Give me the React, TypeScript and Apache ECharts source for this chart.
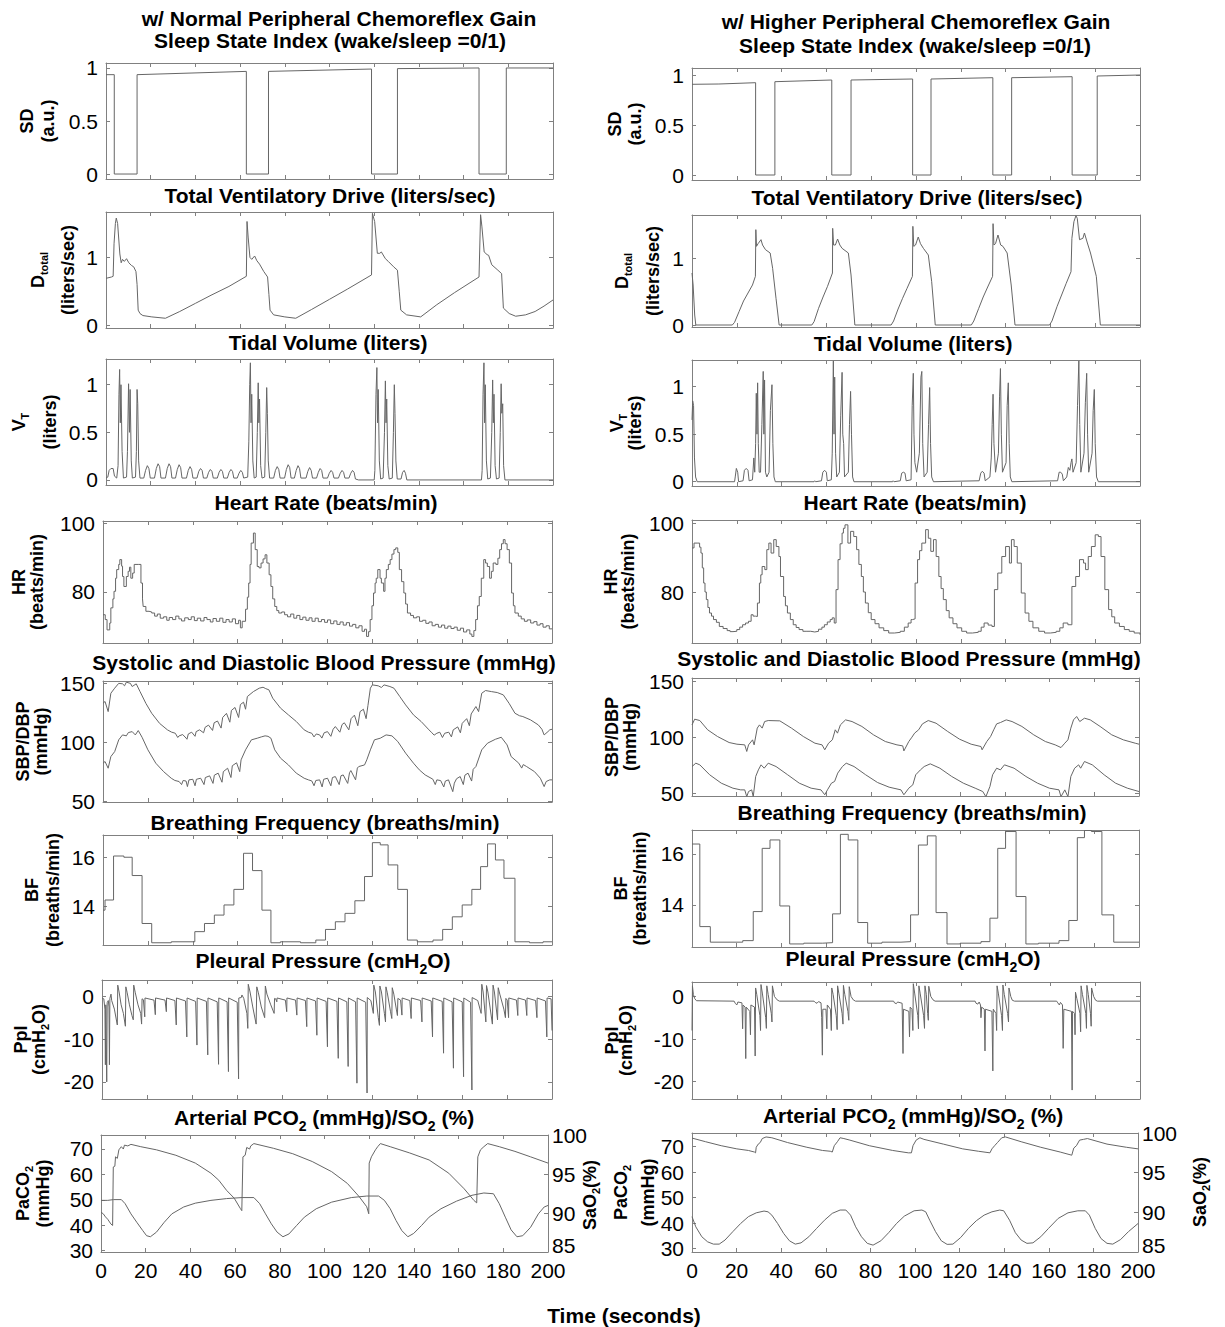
import React, { useEffect, useRef } from 'react';
import * as echarts from 'echarts';

const FONT = "'Liberation Sans', Arial, Helvetica, sans-serif";
const LINE = '#666666';
const FRAME = '#808080';

// ---------- tick values ----------
const X_MIN = 0;
const X_MAX = 200;
const X_STEP = 20;
const SD_T = [0, 0.5, 1];
const DT_T = [0, 1];
const VT_T = [0, 0.5, 1];
const HR_T = [80, 100];
const BP_T = [50, 100, 150];
const BF_T = [14, 16];
const PPL_T = [-20, -10, 0];
const PCO_T = [30, 40, 50, 60, 70];
const SAO_T = [85, 90, 95, 100];

// ---------- data: [time (s), value] ----------
const sdLeft = [[0,0.937],[3.7,0.937],[3.7,0],[13.9,0],[13.9,0.937],[62.8,0.968],[62.8,0],[72.7,0],[72.7,0.968],[118.8,0.99],[118.8,0],[130.4,0],[130.4,0.994],[166.9,1.0],[166.9,0],[179.1,0],[179.1,1.0],[200,1.0]];
const sdRight = [[0,0.907],[12,0.91],[28.4,0.923],[28.4,0],[37,0],[37,0.933],[62.4,0.95],[62.4,0],[71,0],[71,0.95],[98.5,0.96],[98.5,0],[106.7,0],[106.7,0.96],[134.3,0.973],[134.3,0],[142.7,0],[142.7,0.973],[169.7,0.983],[169.7,0],[180.9,0],[180.9,0.99],[200,1.0]];

const dtLeft = [[0,0.69],[2.5,0.71],[3.2,0.72],[3.6,1.2],[4.2,1.5],[4.6,1.58],[5.2,1.5],[6.2,1.05],[6.8,0.92],[7.4,0.97],[8.2,0.94],[9.2,0.98],[10.2,0.92],[11.4,0.88],[12.4,0.86],[13.4,0.79],[13.9,0.6],[14.4,0.22],[15.2,0.17],[16.5,0.14],[20.5,0.12],[26.6,0.10],[33,0.2],[40,0.32],[47,0.44],[55,0.57],[62.8,0.72],[63.1,1.53],[63.6,1.3],[64.4,1.0],[65.2,0.97],[66.5,1.02],[67.5,0.95],[68.7,0.9],[70.6,0.79],[72.3,0.71],[72.9,0.45],[73.4,0.22],[75,0.15],[80,0.12],[84.9,0.10],[92,0.23],[100,0.38],[108,0.53],[118.8,0.74],[119.2,1.65],[120.2,1.53],[121.4,1.06],[122.5,1.06],[123.2,1.08],[125,0.98],[126.3,0.94],[128.7,0.86],[130.4,0.81],[131.2,0.5],[131.9,0.22],[134.5,0.15],[140.8,0.12],[148,0.3],[156,0.48],[166.9,0.71],[167.6,1.63],[168.2,1.45],[169.2,1.08],[170.5,1.04],[171.2,1.03],[172.6,0.89],[175,0.82],[177,0.76],[177.8,0.25],[180.4,0.17],[183.3,0.13],[187.7,0.15],[192,0.2],[196,0.28],[200,0.37]];
const dtRight = [[0,0.78],[0.5,0.6],[1.2,0.15],[1.7,0],[18,0],[19,0.04],[21,0.2],[23,0.36],[25,0.48],[27,0.6],[28.3,0.73],[28.5,1.43],[28.8,1.18],[29.5,1.22],[30.8,1.28],[31.5,1.2],[32.8,1.13],[34.9,1.08],[36,0.85],[37.5,0.4],[38.9,0],[53.5,0],[54.5,0.05],[56.5,0.25],[58.5,0.42],[60.5,0.58],[62.7,0.78],[62.8,1.45],[63.2,1.2],[64,1.2],[65,1.29],[66,1.2],[67,1.15],[69.8,1.08],[71,0.75],[72.7,0],[88.9,0],[90,0.06],[92,0.24],[94,0.4],[96,0.55],[98.4,0.73],[98.6,1.48],[99,1.18],[99.8,1.2],[101,1.32],[102,1.22],[103.3,1.15],[105.5,1.05],[107,0.65],[108.6,0],[124.7,0],[125.8,0.06],[128,0.25],[130,0.42],[132,0.57],[134.2,0.73],[134.4,1.52],[134.8,1.2],[135.5,1.22],[136.6,1.35],[137.8,1.2],[138.8,1.18],[140.7,1.08],[142.5,0.6],[144.2,0],[159.6,0],[160.7,0.06],[163,0.28],[165,0.45],[167,0.62],[169.2,0.8],[169.6,1.3],[170.5,1.55],[171.4,1.64],[172,1.6],[173,1.28],[174.5,1.3],[175.2,1.38],[176.5,1.23],[177.9,1.08],[180.5,0.73],[182.3,0],[200,0]];

const vtLeft = [[0,0.02],[0.8,0.03],[1.4,0.1],[2.2,0.12],[3.2,0.12],[3.8,0.04],[4.8,0.02],[5.4,0.15],[5.8,0.9],[6.1,1.16],[6.4,0.6],[6.7,1.0],[7.2,0.3],[7.8,0.02],[9.2,0.03],[9.6,0.3],[10.1,1.01],[10.5,0.5],[10.8,0.95],[11.3,0.2],[11.8,0.02],[13.2,0.03],[13.6,0.3],[13.9,0.95],[14.2,0.8],[14.6,0.2],[15.2,0.02],
[16.9,0.02],[17.7,0.1],[18.5,0.15],[19.2,0.12],[19.8,0.02],[21.7,0.02],[22.5,0.12],[23.3,0.17],[24,0.14],[24.6,0.02],[26.6,0.02],[27.4,0.12],[28.2,0.17],[28.9,0.14],[29.5,0.02],[31.1,0.02],[31.9,0.11],[32.7,0.16],[33.4,0.13],[34,0.02],[36,0.02],[36.8,0.1],[37.6,0.14],[38.3,0.11],[38.9,0.02],[40.7,0.02],[41.5,0.09],[42.3,0.12],[43,0.1],[43.6,0.02],[45.1,0.02],[45.9,0.08],[46.7,0.11],[47.4,0.09],[48,0.02],[49.8,0.02],[50.6,0.08],[51.4,0.11],[52.1,0.09],[52.7,0.02],[54.3,0.02],[55.1,0.08],[55.9,0.11],[56.6,0.09],[57.2,0.02],[58.7,0.02],[59.5,0.07],[60.3,0.1],[61,0.08],[61.6,0.02],
[63.4,0.03],[63.9,0.4],[64.3,1.0],[64.6,1.23],[64.9,0.6],[65.2,0.9],[65.7,0.2],[66.3,0.02],[67.2,0.03],[67.7,0.5],[68.1,1.02],[68.4,0.6],[68.7,0.85],[69.2,0.15],[69.8,0.02],[71,0.03],[71.5,0.5],[71.9,0.97],[72.2,0.7],[72.6,0.2],[73.2,0.02],
[75,0.02],[75.8,0.1],[76.6,0.14],[77.3,0.11],[77.9,0.02],[79.9,0.02],[80.7,0.11],[81.5,0.16],[82.2,0.13],[82.8,0.02],[84.3,0.02],[85.1,0.1],[85.9,0.15],[86.6,0.12],[87.2,0.02],[89.5,0.02],[90.3,0.09],[91.1,0.13],[91.8,0.1],[92.4,0.02],[94.2,0.02],[95,0.08],[95.8,0.12],[96.5,0.1],[97.1,0.02],[99.1,0.02],[99.9,0.07],[100.7,0.1],[101.4,0.08],[102,0.02],[104,0.02],[104.8,0.07],[105.6,0.1],[106.3,0.08],[106.9,0.02],[108.7,0.02],[109.5,0.07],[110.3,0.1],[111,0.08],[111.6,0.01],[113,0],[120,0],
[120.3,0.1],[120.8,0.9],[121.2,1.18],[121.5,0.6],[121.8,0.95],[122.3,0.2],[122.9,0.01],[124,0.02],[124.6,0.5],[125,1.04],[125.3,0.6],[125.6,0.85],[126.1,0.15],[126.7,0.01],[128.1,0.02],[128.6,0.5],[129,1.0],[129.3,0.7],[129.7,0.2],[130.3,0.01],[132,0.01],[132.7,0.08],[133.4,0.1],[134,0.07],[134.6,0],[168,0],
[168.3,0.1],[168.7,0.9],[169.1,1.23],[169.4,0.6],[169.7,1.0],[170.2,0.2],[170.8,0.01],[172,0.02],[172.6,0.5],[173,1.05],[173.3,0.6],[173.6,0.9],[174.1,0.15],[174.7,0.01],[175.9,0.02],[176.4,0.5],[176.8,1.01],[177.1,0.7],[177.5,0.8],[177.9,0.15],[178.5,0],[200,0]];
const vtRight = [[0,0.65],[0.3,0.85],[0.7,0.8],[1.1,0.25],[1.6,0.05],[2.3,0],[19,0],[19.3,0.05],[19.8,0.14],[20.4,0.1],[20.8,0],[22.8,0.01],[23.4,0.12],[24.2,0.14],[25,0.12],[25.5,0.01],[27,0.02],[27.6,0.25],[28,0.1],[28.4,0.4],[28.7,0.93],[29,0.5],[29.3,1.04],[29.6,0.4],[30,0.1],[30.6,0.1],[31.2,0.6],[31.8,1.16],[32.1,0.5],[32.4,1.07],[32.8,0.1],[33.4,0.05],[34.4,0.1],[35,0.75],[35.7,1.02],[36.1,0.4],[36.6,0.05],[37.2,0],
[54.5,0],[54.8,0.01],[55.2,0],[57.8,0.01],[58.4,0.1],[59.2,0.12],[60,0.1],[60.4,0.01],[62.2,0.02],[62.6,0.3],[63.1,1.27],[63.4,0.5],[63.7,1.1],[64.1,0.3],[64.6,0.05],[65.8,0.1],[66.4,0.7],[67,1.15],[67.3,0.5],[67.7,0.4],[68.1,0.05],[69.8,0.1],[70.3,0.6],[70.8,0.95],[71.2,0.5],[71.7,0.05],[72.3,0],
[89.6,0],[89.8,0.01],[90.2,0],[93,0.01],[93.6,0.09],[94.4,0.1],[95.1,0.09],[95.6,0.01],[97.8,0.02],[98.3,0.8],[98.8,1.14],[99.1,0.5],[99.5,0.2],[100.3,0.1],[101.5,0.3],[102.2,1.1],[102.6,1.16],[103,0.4],[103.6,0.05],[105,0.1],[105.6,0.6],[106.1,0.99],[106.5,0.4],[107,0.05],[107.8,0],
[128.2,0.01],[128.9,0.09],[129.6,0.11],[130.4,0.09],[130.9,0.01],[133,0.05],[133.6,0.25],[134,0.6],[134.4,0.92],[134.8,0.4],[135.5,0.1],[136.8,0.3],[137.3,0.9],[137.7,1.19],[138.1,0.5],[138.6,0.1],[140.2,0.2],[140.7,0.8],[141.2,1.04],[141.6,0.4],[142.1,0.05],[142.8,0],
[163.2,0.01],[163.9,0.1],[164.6,0.1],[165.3,0.08],[165.8,0.01],[167.3,0.05],[168,0.15],[168.7,0.12],[169.2,0.2],[169.6,0.24],[170.1,0.1],[171.5,0.2],[172.1,0.8],[172.7,1.27],[173.1,0.6],[173.6,0.1],[175,0.3],[175.6,0.83],[176.2,1.14],[176.6,0.5],[177.1,0.1],[178.6,0.3],[179.1,0.75],[179.6,0.97],[180,0.4],[180.6,0.05],[181.4,0],[200,0]];

const hrLeft = [[0,73.4],[1,72],[1.8,69],[3,71],[3.5,75.4],[4.4,78],[4.9,80.2],[5.6,84],[6.1,86.5],[7,88],[7.5,89.4],[8.3,87.5],[8.7,84.5],[9.3,81.6],[10.4,84.5],[11.2,86],[11.8,87.2],[12.4,84],[13.2,85.5],[13.9,88],[15.7,88],[16.9,82.6],[17.6,78],[17.9,75.8],[19.1,74.4],[20.5,74.2],[21.7,73.9],[23,73],[24.2,73.6],[25.5,72.4],[27,72.8],[28.4,71.8],[29.5,72.6],[31,72],[32.4,73],[33.8,72.2],[35,71.6],[36.4,72.5],[38,72],[39.3,72.8],[40.7,71.7],[42,72.4],[43.5,71.6],[45,72.6],[46.3,72],[47.8,71.3],[49,72.3],[50.5,71.5],[52,72.4],[53.4,71.2],[54.8,72],[56.2,71.3],[57.6,72.2],[59,70.8],[60.4,71.8],[61.2,69.6],[62,71.5],[63.5,75],[64.3,78.5],[64.9,82.6],[65.5,88],[66,94.2],[67,97.1],[67.8,92.3],[68.7,87.4],[69.5,87],[70.4,88.4],[71.3,89.6],[72.2,90.8],[73,88.4],[74,85],[74.8,81.6],[75.6,78],[76.5,75.8],[77.4,74.6],[78.3,73.9],[79.6,74.2],[80.9,73.4],[82.2,72.8],[83.6,73.6],[85,72.4],[86.3,73.2],[87.7,72],[89,72.7],[90.4,71.8],[91.8,72.5],[93.1,71.5],[94.5,72.4],[95.9,71.4],[97.3,72],[98.7,71.2],[100,71.9],[101.4,70.8],[102.8,71.6],[104.2,70.6],[105.6,71.3],[107,70.4],[108.4,71.1],[109.8,70.1],[111.2,70.6],[112.6,69.6],[114,70.2],[115.4,68.6],[116.5,69.2],[117.4,67.1],[118.3,68.5],[119,72],[119.8,76],[120.5,79.7],[121.2,82.6],[121.7,84],[122.4,86.5],[123.4,84],[124,82.6],[125,80.2],[125.6,84],[126.2,86.5],[127.1,88],[127.9,89.4],[128.7,91],[129.6,92.3],[130.4,92.8],[131.3,91.5],[132,86.5],[133,83],[134,79.7],[134.8,76.5],[135.6,73.9],[137,73.2],[138.3,72.5],[139.7,72.8],[141,71.5],[142.4,71.8],[143.8,70.9],[145.2,71.3],[146.6,70.2],[148,70.6],[149.4,69.8],[150.8,70.4],[152.2,69.5],[153.6,70.1],[155,69.4],[156.4,69.8],[157.8,68.9],[159.2,69.5],[160.6,68.4],[162,69],[163.4,67.8],[164.3,67.1],[165.2,68.8],[166,72],[166.8,76],[167.6,78.7],[168.5,84],[169.6,89.4],[170.4,88.4],[171.2,87.4],[172.2,84],[173,86],[173.8,88.4],[175,88],[175.9,89.8],[176.7,92.3],[177.5,94],[178.3,95.2],[179.1,94],[180,92.3],[181,88.4],[182,79.7],[182.8,76],[183.5,73.9],[185,73],[186.3,72.2],[187.7,71.5],[189,71.9],[190.5,71],[191.9,71.4],[193.3,70.4],[194.7,70.8],[196,69.8],[197.4,70.2],[198.8,69.3],[200,69.1]];
const hrRight = [[0,92.8],[0.9,94.2],[2.6,94.2],[3.4,93],[4,91.3],[4.6,87],[5.2,82.6],[5.8,80],[6.4,77.8],[7.1,75.5],[7.8,73.9],[8.7,73],[9.6,72],[10.9,71.2],[12.2,70],[13.9,69.4],[15.7,68.8],[17,68.5],[18.3,68.6],[20,69.1],[21.3,69.8],[22.6,70.5],[23.9,71],[25.2,71.5],[26.4,73.4],[27.3,73],[28.3,72.9],[29.2,76.8],[30.1,82.6],[30.7,85],[31.3,87.4],[32.5,86.5],[33.4,92.3],[34.3,94.2],[35.3,91.3],[36.5,95.2],[37.6,93.2],[38.8,90.3],[39.5,84.5],[40.9,78.7],[41.7,76],[42.6,73.9],[43.9,72],[45.2,70.5],[46.5,69.7],[47.8,69.1],[49.5,68.6],[51.3,68.6],[53,68.4],[54.8,68.6],[56.5,69.2],[58,69.8],[59.1,70.5],[60.4,71.3],[61.7,72],[62.6,72.5],[63.5,71],[64.3,80.7],[65.2,89.4],[66.1,94],[67,97.1],[67.6,98.5],[68.3,99.5],[69.6,94.2],[70.8,97.6],[72.2,96.1],[73.5,92.3],[74.5,88],[75.6,84.5],[76.5,80],[77.4,76.8],[78.7,74],[80,72],[81.7,70.8],[83.5,69.6],[85.6,68.8],[87.8,68.1],[90.4,68.3],[93,68.6],[94.8,69.8],[96.5,71],[97.8,72],[98.5,72.2],[99.6,82.6],[100.7,89.4],[101.6,92],[102.6,94.2],[104.3,98.1],[105.5,95.6],[106.6,91.8],[107.8,95.2],[109,90.3],[110.2,84.5],[111.2,81],[112.2,77.8],[113.5,74.6],[114.8,72.5],[116.5,70.8],[118.3,69.6],[120.4,68.6],[122.6,68.1],[125.2,68.3],[127.8,68.6],[129.1,69.8],[130.4,71],[132.2,70.4],[133.9,70],[135,80.7],[136.5,85.5],[138.3,90.3],[140,93.2],[141.7,88.4],[142.6,95.2],[143.8,93.2],[145.2,88.4],[147,79.7],[148.7,73.9],[150.4,71.5],[152.2,69.6],[154.8,68.6],[157.4,68.1],[160,68.3],[162.6,68.6],[164.2,69.6],[165.7,71],[167.8,70.5],[169.6,81.6],[171.3,84.5],[173,89.4],[174.8,88.4],[175.7,86.5],[176.9,90.3],[178.3,93.2],[180,96.6],[181.4,96.1],[182.6,90.3],[184.3,80.7],[186,74.9],[187.4,72.8],[188.7,71],[190.8,70],[193,69.1],[195.2,68.6],[197.4,68.1],[200,67.6]];

const sbpLeft = [[0,133],[0.9,134.6],[2.3,126],[3.5,141.6],[5.2,145.9],[7,150],[8.7,149.6],[9.6,147.9],[10.4,151],[12.2,150],[13,147.3],[14.8,149.6],[16.5,143],[19.1,133],[21.7,124.6],[25.2,116],[28.7,110.5],[30.5,108.6],[32.2,107.6],[33.3,104],[33.9,105.4],[35.5,106.5],[37,103.5],[37.4,102.5],[38,107],[39.5,108.5],[41,105],[41.5,109],[43,110.5],[44.8,108],[45.5,112.7],[47,114.5],[48.8,110],[49.5,116.5],[51,118],[52.6,112],[53.3,121],[55,124.5],[56.5,117],[57.2,127],[58.8,129.5],[60.4,121],[61.2,132],[62.6,134],[63.5,128],[64.3,138.8],[67,143],[69.6,145.9],[71.3,146.7],[72.5,145.5],[73.9,144.5],[75.6,137.4],[79.1,128.9],[82.6,123.2],[86.1,117.6],[89.6,110.5],[91.5,108.5],[93,107.6],[94,104.5],[95,107],[96.5,106.2],[97.5,103.5],[98.5,108],[100,109],[101.5,105],[102.5,111],[103.5,113.3],[105.5,108.5],[106.5,115],[107.5,116.5],[109.5,110.5],[110.5,120],[112,123],[113.5,114],[114.5,126],[116,128],[117.2,120],[118,131],[119.1,145.9],[120,148.7],[122.6,147.9],[124,146.5],[125.2,148.7],[127.8,147.3],[129.6,145.9],[132.2,138.8],[134.8,131.7],[138.3,123.2],[141.7,117.6],[145.2,110.5],[146.5,108],[147.5,106],[148.7,107.6],[150,108.5],[151.2,104],[152.2,107.6],[154,108.5],[155.2,104.5],[156,110.5],[158,113],[159.2,108],[160,116],[162,120],[163.2,114],[164,124],[166.1,130.3],[167.3,126],[168.7,141.6],[170.4,143.9],[173,143],[175.6,142.2],[178.3,140.2],[180.9,133],[183.5,124.6],[185.5,122.5],[187,121.8],[190.4,119],[193.9,114.7],[195.5,111],[196.5,106.2],[198.2,109],[199,110.5],[200,111]];
const dbpLeft = [[0,82],[0.9,83.6],[2.3,77.9],[3.5,87.8],[5.2,92],[7,102],[8.7,106.2],[10.4,105.4],[11.3,108.2],[13,109],[14.4,106.2],[15.7,109.9],[17.4,104.2],[20,93.5],[23.5,82.2],[27,75],[30.4,69.4],[32,67.5],[33.9,66.6],[35,64],[35.7,67.5],[37,67],[37.6,62.3],[38.3,68],[40,68.5],[41,63],[41.6,68.5],[43.5,69.4],[45,64],[45.6,70],[47.5,71.4],[49,65],[49.6,72],[51.3,73.7],[53,66],[53.6,75],[55.5,77.9],[57,70],[57.6,80],[59.5,82.5],[60.9,75],[61.5,85],[63.5,93.5],[66.1,102],[68.7,103.4],[70.5,104.5],[72.2,105.4],[73.5,105],[74.8,103.4],[76.5,93.5],[79.1,86.4],[82.6,80.7],[86.1,73.7],[89.6,69.4],[91.5,68],[93,67.1],[94,63],[94.8,67.5],[96.5,68],[97.6,62],[98.3,68.5],[100,69.4],[101.5,63],[102.2,70],[103.5,70.8],[105.2,64],[106,71.5],[107,72.2],[109,65],[109.8,74],[110.4,75.9],[112.5,68],[113.3,78],[113.9,79.3],[116.5,80.7],[117.5,85],[119.1,93.5],[120.9,102],[123.5,103.4],[126.1,106.2],[128.7,105.4],[131.3,100.6],[134.8,90.7],[138.3,82.2],[140.9,76.5],[143.5,72.2],[146.9,68.6],[148,64],[148.7,68],[150.4,67.4],[151.8,62],[152.5,67],[153.9,68],[155.8,58],[156.5,65.2],[157.5,69],[159.1,70.8],[160.5,64],[161.2,72],[162.6,73.7],[164.2,67],[164.9,77],[166.1,79.3],[168.7,93.5],[171.3,99.2],[174.8,102.5],[177.4,104.2],[180,97.7],[181.8,87.8],[185.2,82.2],[186.5,78],[187.2,81],[188.7,79.3],[192.2,75],[194.8,69.4],[196.5,62.3],[197.4,66.6],[199,68],[200,68]];
const sbpRight = [[0,111.3],[1.2,116.4],[3.5,115.2],[7,106.9],[11.4,100.9],[16.6,95.5],[20.1,94],[23.6,93.4],[24.5,87.5],[25.3,93.4],[27.1,97.9],[27.8,93.4],[29.2,108.4],[30.2,111.3],[31.4,108.4],[32.5,114.3],[34.1,115.2],[39.3,114.9],[44.5,108.4],[49.8,100.9],[55,94.9],[58.2,93.4],[59.4,89],[61.1,94.9],[62.8,97.9],[64.1,106.9],[65.1,103.9],[66.4,111.3],[68.7,115.8],[71.6,114.3],[76,109.9],[81.2,102.4],[86.5,96.4],[91.7,93.4],[94.3,92.5],[94.8,88],[97,96.4],[98.4,100.3],[99.6,103.9],[101.4,106.9],[103.1,112.2],[105.7,115.2],[109.2,112.8],[114.4,105.4],[119.7,98.5],[124.9,94],[129.3,91.9],[129.8,89],[131.9,96.4],[133.6,100.9],[135,106.9],[136.3,112.2],[138,113.4],[140.6,115.8],[143.2,114.3],[147.6,109.9],[152.9,102.4],[158.1,96.4],[162.5,93.4],[165.1,91],[166.8,94.9],[168.2,97.9],[169.5,108.4],[170.7,115.8],[172.1,118.8],[173.5,114.3],[175.6,117.3],[178.2,115.8],[182.6,109.9],[187.8,102.4],[193,97.9],[198.3,94.9],[200,94]];
const dbpRight = [[0,74],[1.7,77],[3.5,75.5],[7.9,66.6],[13.1,59.1],[18.3,54.6],[21.8,53.1],[23.6,53.1],[24.5,47],[25.3,51.6],[26.7,53.1],[27.4,47],[28.5,65.1],[29.7,71],[30.9,75.5],[32.3,72.5],[34.1,77],[37.6,74],[42.8,66.6],[48,59.1],[53.3,54.6],[57.7,53.1],[59.4,48.7],[60.6,53.1],[62.4,59.1],[63.8,60.6],[65.2,68.1],[67.3,74],[69,77],[72.5,74],[77.7,66.6],[83,59.7],[88.2,55.5],[93.5,53.1],[94.8,48.7],[97,54.6],[98.8,57.6],[100.1,66.6],[102.2,71],[103.9,74],[106.6,76.4],[110.9,72.5],[116.2,65.1],[121.4,59.1],[126.7,54.6],[130.1,51.6],[131.5,47],[133.3,56.1],[134.5,66.6],[136.3,72.5],[138,71],[139.8,75.5],[144.1,72.5],[149.4,65.1],[154.6,59.1],[159.9,54.6],[164.2,53.1],[165.1,47],[166.8,53.1],[168.2,47],[169.5,65.1],[171.2,72.5],[173,75.5],[173.9,72.5],[175.6,78.5],[179.1,75.5],[184.4,66.6],[189.5,59.1],[194.8,54.6],[200,51.6]];

// breathing frequency: value holds from t until the next point
const bfLeft = [[0,13.86],[0.9,14.27],[4.7,16.05],[9.3,16.0],[13,15.26],[17.4,13.32],[21.7,12.54],[30.4,12.58],[40.9,12.99],[45.2,13.32],[49.6,13.66],[53.9,14.07],[58.3,14.7],[62.6,16.16],[66.6,15.46],[70.8,13.86],[74.8,12.54],[79,12.58],[88,12.54],[94.8,12.65],[99.1,13.08],[103.5,13.39],[107.8,13.73],[112.2,14.24],[116.5,15.22],[120,16.59],[123.5,16.5],[127,15.69],[131.3,14.7],[135.6,12.65],[140,12.58],[147,12.65],[151.3,13.08],[155.6,13.59],[160,14.07],[164.3,14.7],[168.2,15.62],[171.3,16.54],[174.8,15.89],[178.6,15.15],[183.5,12.58],[190,12.54],[196,12.58],[200,12.58]];
const bfRight = [[0,16.39],[3.5,13.15],[8.2,12.54],[22.7,12.6],[27.4,13.74],[31.4,16.22],[34.9,16.55],[39.3,13.96],[43.7,12.47],[50,12.5],[58.5,12.52],[62.9,13.65],[66.4,16.77],[69.9,16.55],[74.2,13.31],[78.6,12.5],[85,12.54],[93.5,12.56],[97.8,13.61],[101.3,16.35],[105.3,16.71],[109.2,13.7],[114.1,12.47],[120,12.5],[129.3,12.56],[133.3,13.48],[136.8,16.22],[140.3,16.88],[145,14.33],[149.4,12.47],[155,12.5],[164.2,12.6],[168.6,13.39],[172.4,16.64],[175.6,16.92],[178.7,16.88],[183.4,13.61],[188.7,12.54],[200,12.54]];

const pplLeft = [[0,-0.4],[0.8,-0.6],[1.3,-3],[1.5,-16],[1.7,-2],[2.1,-20],[2.3,-1.5],[2.8,-1],[3.1,-2.5],[3.3,-16],[3.5,-0.5],[4,0.5],[4.3,-1],[5.5,-3],[6.8,-6.7],[7,2.6],[7.6,1],[8.5,-2],[9.5,-4],[10.4,-7],[10.6,2.2],[11.2,0.8],[12.2,-2],[13.3,-4.5],[13.9,-5.5],[14.1,2.6],[14.8,0.8],[16,-2],[17.2,-4],[17.6,-6.5],[17.8,-0.6],
[18.4,-0.8],[19,-4.8],[19.1,-0.4],[23.1,-0.9],[23.7,-4.3],[23.8,-0.4],[28,-0.9],[28.6,-3.6],[28.7,-0.4],[32.4,-1],[33,-6.7],[33.1,-0.4],[37.1,-1.1],[37.7,-9.5],[37.8,-0.4],[41.6,-1.2],[42.2,-11.4],[42.3,-0.4],[46.4,-1.2],[47,-13.7],[47.1,-0.4],[51.2,-1.3],[51.8,-15.9],[51.9,-0.4],[55.6,-1.3],[56.2,-17.6],[56.3,-0.4],[60.1,-1.4],[60.7,-19.3],[60.8,-0.4],
[61.9,-0.3],[62.2,0.3],[63,-0.5],[64.4,-4],[64.8,-7.5],[65,2.8],[65.8,1],[67,-2.5],[68.5,-6.5],[68.8,2.2],[69.5,0.8],[70.8,-2.5],[72.3,-5],[72.6,2.4],[73.3,0.5],[75,-2],[76.5,-4],[76.7,-0.5],
[77.2,-0.6],[77.7,-1.3],[77.8,-0.4],[81.5,-0.9],[82.1,-3.6],[82.2,-0.4],[86,-0.9],[86.6,-4.4],[86.7,-0.4],[90.4,-1],[91,-7.1],[91.1,-0.4],[94.9,-1.1],[95.5,-9.1],[95.6,-0.4],[99.6,-1.2],[100.2,-11.8],[100.3,-0.4],[104.4,-1.2],[105,-14.5],[105.1,-0.4],[108.8,-1.3],[109.4,-16.4],[109.5,-0.4],[112.7,-1.3],[113.3,-20.3],[113.4,-0.4],[117.2,-1.4],[117.8,-22.6],[117.9,-0.3],
[119.5,-1],[120.6,-4],[120.8,2.6],[121.5,1],[122.8,-5],[123.3,-6.8],[123.5,2.4],[124.2,1],[125.5,-4],[126,-6],[126.2,2.2],[126.8,0.8],[128.2,-3.5],[128.8,-5.2],[129,2],[129.7,0.5],[130.8,-3],[131.3,-4.5],[131.5,-0.5],
[132.7,-0.9],[133.3,-4.4],[133.4,-0.4],[136.8,-1],[137.4,-5.2],[137.5,-0.4],[141.6,-1],[142.2,-6],[142.3,-0.4],[146.3,-1.1],[146.9,-9.5],[147,-0.4],[151.2,-1.2],[151.8,-13.3],[151.9,-0.4],[155.6,-1.3],[156.2,-16.8],[156.3,-0.4],[160.1,-1.3],[160.7,-18.8],[160.8,-0.4],[163.8,-1.4],[164.4,-21.9],[164.5,-0.3],
[167,-1],[168.5,-4],[168.8,2.8],[169.4,1],[170.6,-6],[170.9,2.5],[171.5,1],[173.5,-6.5],[173.8,2.6],[174.4,1],[175.8,-5.5],[176.1,2],[176.8,0.5],[178.6,-3],[179.3,-5],[179.5,-0.5],
[180.1,-0.9],[180.7,-5],[180.8,-0.4],[184.2,-0.9],[184.8,-4.5],[184.9,-0.4],[188.2,-0.9],[188.8,-4.5],[188.9,-0.4],[192.7,-1],[193.3,-5],[193.4,-0.4],[197.1,-1.1],[197.7,-9.5],[197.8,-0.4],[199.6,-0.6],[200,-8]];
const pplRight = [[0,-8],[0.2,2.5],[0.6,0.5],[1.2,-0.5],[2,-1],[18.8,-1.1],[19.3,-1.6],[20,-2],[20.5,-1.3],[22.3,-1.5],[22.6,-7.6],[22.8,-2],[23.7,-2.5],[24,-14.6],[24.2,-2.5],[25.8,-3.5],[26.1,-9],[26.3,-2],[27.9,-2.5],[28.2,-14],[28.4,2],[28.9,0.5],[30.3,-4.5],[30.6,-8],[30.8,2.8],[31.4,0.8],[32.9,-5],[33.2,-7.5],[33.4,2.5],[34,0.5],[35.4,-4],[35.7,-6],[35.9,2.5],[36.8,0],[38,-0.8],[39,-1.1],
[54.5,-1.1],[55,-1.4],[55.8,-1.6],[56.5,-1.2],[57.6,-1.5],[57.9,-5],[58.2,-13.8],[58.4,-3],[59.8,-3],[60.2,-7.6],[60.4,-2],[61.8,-3],[62.2,-8],[62.4,2],[63,0.5],[64.4,-4.5],[64.8,-7.8],[65,2.5],[65.6,0.6],[67,-4],[67.4,-6.5],[67.6,2.6],[68.2,0.5],[69.6,-3.5],[70,-5.6],[70.2,2.3],[71,0],[72,-0.8],[73,-1.1],
[90,-1.1],[90.4,-1.5],[91.2,-1.7],[91.8,-1.3],[93.8,-1.6],[94.2,-13.4],[94.4,-3],[96.8,-3.5],[97.1,-9.5],[97.4,-2.5],[98.2,-3],[98.6,-8],[98.8,3],[99.4,0.8],[100.8,-4.5],[101.1,-7.6],[101.3,2.5],[101.9,0.6],[103.4,-4.5],[103.8,-7.5],[104,2.5],[104.6,0.5],[105.2,-4],[105.5,-5.6],[105.7,2.4],[106.6,0],[107.6,-0.8],[108.5,-1.1],
[126.4,-1.1],[126.8,-1.6],[127.6,-1.8],[128.2,-1.3],[128.8,-2],[129,-5],[129.3,-2.5],[130.5,-3],[130.8,-12.8],[131,-3],[133.9,-3.5],[134.3,-17.5],[134.5,-3],[135.7,-4],[136,-8],[136.2,2.5],[136.8,0.6],[138.2,-4.5],[138.6,-8],[138.8,2.7],[139.4,0.5],[140.9,-4],[141.3,-6],[141.5,2],[142.3,0],[143,-0.9],[144,-1.1],
[162.8,-1.1],[163.3,-1.5],[164,-2],[164.5,-1.4],[165.4,-2],[165.7,-12.2],[166,-3],[169.4,-3.5],[169.7,-22],[169.9,-3.5],[170.8,-4],[171,-9],[171.2,1],[171.8,-0.5],[173.2,-4],[173.5,-8.3],[173.7,2.5],[174.3,0.5],[175.8,-4],[176.1,-7.5],[176.3,2.6],[176.9,0.5],[177.9,-4],[178.2,-7],[178.4,2],[179.3,0],[180.2,-0.9],[181,-1.1],[200,-1.1]];

const pcoLeft = [[0,49.8],[3,49.8],[5.6,50.1],[9.1,50.1],[10.8,48.5],[13.4,44.5],[16,41.2],[18.7,37.9],[20.4,35.9],[22.1,35.5],[24.8,37.3],[28.3,41.2],[31.7,44.5],[37,47.2],[42.2,48.7],[49.2,49.8],[56.2,50.5],[63.1,50.9],[68.4,50.9],[71,48.5],[73.6,44.5],[76.2,40.6],[78.8,37.3],[81.4,35.5],[84.1,36.6],[87.5,39.9],[91,43.2],[96.3,46.5],[103.2,49.1],[112,50.9],[118.9,51.5],[124.2,51.5],[126.8,49.8],[129.4,46.5],[132,41.9],[134.6,37.9],[137.3,35.5],[139.9,36.8],[143.4,39.9],[146.8,43.2],[152.1,46.5],[159.1,49.5],[166,51.8],[171.3,52.7],[175.6,52.4],[178.2,48.5],[180.9,43.2],[183.5,38.2],[186.1,35.5],[188.7,35.9],[192.2,39.2],[195.7,44.5],[198.3,47.2],[200,47.8]];
const saoLeft = [[0,90.1],[1,89.9],[2,89.5],[3,89.2],[4.4,88.6],[5.2,88.4],[5.5,95.9],[6.2,96],[6.5,97.2],[7.3,97],[8,98.1],[9.1,98.5],[10,98.2],[10.5,98.7],[12,98.6],[13.4,98.8],[17.8,98.5],[24.8,98.1],[33.5,97.4],[42.2,96.4],[49.2,95.1],[52.7,94.2],[56.2,92.9],[59.6,91.9],[62.3,90.6],[63,90.3],[63.5,97.2],[64.5,97.4],[65.2,98.4],[66.5,98.2],[67,98.6],[68.4,98.9],[77.1,98.3],[85.8,97.6],[94.5,96.6],[103.2,95.3],[110.2,93.8],[115.5,92.1],[118.9,90.8],[119.8,89.9],[120,96.4],[121,97.2],[122.8,98.1],[123.8,98.5],[125,98.9],[129.4,98.5],[138.1,97.7],[146.8,96.8],[155.6,95.1],[162.5,93.1],[166.9,91.6],[168.1,91.3],[168.6,97.2],[169.8,98.1],[171.3,98.5],[173,98.9],[178.2,98.5],[185.2,97.9],[192.2,97.2],[200,96.4]];
const pcoRight = [[0,42.5],[1.7,38.5],[4.4,34.6],[7,32.6],[9.6,31.7],[12.2,31.7],[14.8,33.3],[18.3,36.6],[21.8,39.8],[25.3,42.5],[28.8,44],[32.3,44.7],[34.1,44.4],[35.8,43.1],[38.4,39.8],[41.1,35.9],[43.7,33],[46.3,31.7],[48.9,32.2],[52.4,34.6],[55.9,37.9],[59.4,41.1],[62.9,43.8],[66.4,45.1],[69,45.1],[71.1,43.1],[73.4,38.5],[76,34.6],[78.6,32],[81.2,31.3],[84.7,33],[88.2,36.2],[91.7,39.8],[95.2,42.7],[99.6,44.8],[103.1,45.1],[104.8,44.4],[106.6,41.1],[109.2,36.6],[111.8,33],[114.4,31.6],[117,31.7],[120.5,34.3],[124,37.9],[127.5,40.9],[131,43.1],[134.5,44.4],[138,45.1],[139.8,44.8],[142.4,41.1],[145,36.2],[147.6,33.3],[150.2,32],[152.9,32.2],[156.4,34.6],[159.9,37.9],[164.2,41.8],[168.6,44],[173,44.8],[176.4,44.8],[178.2,43.1],[180.8,37.9],[183.4,33.9],[186.1,32],[188.7,31.7],[192.2,33.5],[195.7,36.6],[200,39.8]];
const saoRight = [[0,99.36],[6.1,98.9],[13.1,98.4],[20.1,98],[25.3,97.8],[28,97.6],[28.5,97.5],[28.8,98.2],[29.7,98.6],[30.6,98.8],[31.5,99.3],[33.2,99.5],[35.8,99.4],[42.8,98.8],[51.5,98.2],[58.5,97.8],[62,97.7],[62.9,97.6],[63.8,98.4],[65.2,98.9],[66.4,99.4],[68.1,99.3],[70.8,99.1],[79.5,98.4],[90,97.8],[97,97.5],[98.4,97.5],[99.1,98.4],[100.5,99.1],[102.2,99.4],[104,99.2],[112.7,98.6],[121.4,98],[128.4,97.7],[133.6,97.5],[134.5,98],[135.7,98.4],[137,98.8],[138.9,99.4],[140.6,99.5],[147.6,98.9],[156.4,98.2],[165.1,97.6],[170.3,97.2],[171.2,98.1],[172.4,98.4],[173.8,99.1],[175.6,99.2],[177.3,99.3],[186.1,98.6],[194.8,98.2],[200,98]];

// ---------- texts ----------
const TOP_LEFT = 'w/ Normal Peripheral Chemoreflex Gain';
const TOP_RIGHT = 'w/ Higher Peripheral Chemoreflex Gain';
const TITLES = [
  'Sleep State Index (wake/sleep =0/1)',
  'Total Ventilatory Drive (liters/sec)',
  'Tidal Volume (liters)',
  'Heart Rate (beats/min)',
  'Systolic and Diastolic Blood Pressure (mmHg)',
  'Breathing Frequency (breaths/min)',
  '{t|Pleural Pressure (cmH}{ts|2}{t|O)}',
  '{t|Arterial PCO}{ts|2}{t| (mmHg)/SO}{ts|2}{t| (%)}',
];
const YLAB1 = ['{m|SD}', '{m|D}{s|total}', '{m|V}{s|T}', '{m|HR}', '{m|SBP/DBP}', '{m|BF}', '{m|Ppl}', '{m|PaCO}{s|2}'];
const YLAB2 = ['{m|(a.u.)}', '{m|(liters/sec)}', '{m|(liters)}', '{m|(beats/min)}', '{m|(mmHg)}', '{m|(breaths/min)}', '{m|(cmH}{s|2}{m|O)}', '{m|(mmHg)}'];
const SAO_LABEL = '{m|SaO}{s|2}{m|(%)}';
const X_NAME = 'Time (seconds)';

// ---------- layout (pixels) ----------
type Box = { l: number; t: number; w: number; h: number; y: [number, number] };
const LEFT_BOX: Box[] = [
  { l: 106, t: 63, w: 447, h: 116, y: [-0.047, 1.047] },
  { l: 106, t: 212, w: 447, h: 116, y: [-0.044, 1.67] },
  { l: 106, t: 359, w: 447, h: 126, y: [-0.053, 1.27] },
  { l: 103, t: 521, w: 449, h: 122, y: [65.2, 100.6] },
  { l: 103, t: 681, w: 449, h: 121, y: [49.2, 152] },
  { l: 103, t: 835, w: 449, h: 110, y: [12.45, 16.9] },
  { l: 102, t: 980, w: 450, h: 119, y: [-24, 3.8] },
  { l: 101, t: 1135, w: 447, h: 117, y: [29.5, 75.5] },
];
const RIGHT_BOX: Box[] = [
  { l: 692, t: 68, w: 448, h: 112, y: [-0.05, 1.07] },
  { l: 692, t: 215, w: 448, h: 112, y: [-0.03, 1.65] },
  { l: 692, t: 360, w: 448, h: 126, y: [-0.045, 1.28] },
  { l: 692, t: 520, w: 448, h: 123, y: [65.2, 100.9] },
  { l: 692, t: 678, w: 447, h: 118, y: [47.6, 153.3] },
  { l: 692, t: 830, w: 447, h: 117, y: [12.35, 16.94] },
  { l: 692, t: 982, w: 448, h: 117, y: [-24.1, 3.4] },
  { l: 692, t: 1133, w: 446, h: 119, y: [28.6, 75.4] },
];
const LEFT_TITLE_POS = [[330, 40], [330, 195], [328, 342], [326, 502], [324, 662], [325, 822], [323, 960], [324, 1117]];
const RIGHT_TITLE_POS = [[915, 45], [917, 197], [913, 343], [915, 502], [909, 658], [912, 812], [913, 958], [913, 1115]];
const LEFT_LAB_X = [[27, 48], [38, 68], [19, 50], [19, 37], [23, 41], [32, 53], [21, 39], [23, 43]];
const RIGHT_LAB_X = [[615, 635], [622, 653], [617, 635], [611, 628], [612, 630], [621, 640], [612, 626], [621, 648]];

const ROW_TICKS = [SD_T, DT_T, VT_T, HR_T, BP_T, BF_T, PPL_T, PCO_T];
const LEFT_SERIES = [[sdLeft], [dtLeft], [vtLeft], [hrLeft], [sbpLeft, dbpLeft], [bfLeft], [pplLeft], [pcoLeft]];
const RIGHT_SERIES = [[sdRight], [dtRight], [vtRight], [hrRight], [sbpRight, dbpRight], [bfRight], [pplRight], [pcoRight]];
const STEP_ROWS = [3, 5];

const titleRich = {
  t: { fontSize: 21, fontWeight: 'bold', fontFamily: FONT, fill: '#000', color: '#000' },
  ts: { fontSize: 14, fontWeight: 'bold', fontFamily: FONT, fill: '#000', color: '#000', padding: [18, 0, 0, 0] },
};
const labRich = {
  m: { fontSize: 18, fontWeight: 'bold', fontFamily: FONT, fill: '#000', color: '#000' },
  s: { fontSize: 11, fontWeight: 'bold', fontFamily: FONT, fill: '#000', color: '#000', padding: [12, 0, 0, 0] },
};

function textEl(x: number, y: number, text: string, rich: any, rotate = false) {
  return {
    type: 'text',
    x,
    y,
    rotation: rotate ? Math.PI / 2 : 0,
    silent: true,
    style: {
      text,
      rich,
      fill: '#000',
      textAlign: 'center',
      textVerticalAlign: 'middle',
    },
  };
}

function buildOption() {
  const grid: any[] = [];
  const xAxis: any[] = [];
  const yAxis: any[] = [];
  const series: any[] = [];
  const elements: any[] = [];

  const axisLine = { show: true, onZero: false, lineStyle: { color: FRAME, width: 1 } };
  const tickStyle = { color: FRAME, width: 1 };
  const labelStyle = { fontSize: 21, fontFamily: FONT, color: '#000', lineHeight: 18 };

  const cols = [
    { boxes: LEFT_BOX, ser: LEFT_SERIES, tpos: LEFT_TITLE_POS, lx: LEFT_LAB_X },
    { boxes: RIGHT_BOX, ser: RIGHT_SERIES, tpos: RIGHT_TITLE_POS, lx: RIGHT_LAB_X },
  ];
  let gi = 0;
  cols.forEach((c, ci) => {
    c.boxes.forEach((b, r) => {
      grid.push({ left: b.l, top: b.t, width: b.w, height: b.h, containLabel: false });
      const xc = {
        type: 'value', gridIndex: gi, min: X_MIN, max: X_MAX, interval: X_STEP,
        axisLine, splitLine: { show: false },
        axisTick: { show: true, inside: true, length: 4, lineStyle: tickStyle },
      };
      xAxis.push({ ...xc, position: 'bottom', axisLabel: { show: r === 7, margin: 9, ...labelStyle } });
      xAxis.push({ ...xc, position: 'top', axisLabel: { show: false } });
      const ticks = ROW_TICKS[r];
      const yc = {
        type: 'value', gridIndex: gi, min: b.y[0], max: b.y[1],
        axisLine, splitLine: { show: false },
        axisTick: { show: true, inside: true, length: 4, lineStyle: tickStyle, customValues: ticks },
      };
      yAxis.push({ ...yc, position: 'left', axisLabel: { show: true, margin: 8, customValues: ticks, ...labelStyle } });
      if (r === 7) {
        // lowest SaO2 label drawn separately, nudged up so it clears the "200" time label
        yAxis.push({
          type: 'value', gridIndex: gi, min: SAO_T[0], max: SAO_T[SAO_T.length - 1], position: 'right',
          axisLine, splitLine: { show: false },
          axisTick: { show: true, inside: true, length: 4, lineStyle: tickStyle, customValues: SAO_T },
          axisLabel: { show: true, margin: 4, customValues: SAO_T.slice(1), ...labelStyle },
        });
        elements.push({
          type: 'text', x: b.l + b.w + 4, y: b.t + b.h - 7, silent: true,
          style: {
            text: String(SAO_T[0]), fontSize: 21, fontFamily: FONT, fill: '#000',
            textAlign: 'left', textVerticalAlign: 'middle',
          },
        });
      } else {
        yAxis.push({ ...yc, position: 'right', axisLabel: { show: false } });
      }
      c.ser[r].forEach((d) => {
        series.push({
          type: 'line', xAxisIndex: gi * 2, yAxisIndex: gi * 2, data: d,
          showSymbol: false, symbol: 'none', silent: true, clip: true,
          step: STEP_ROWS.includes(r) ? 'end' : false,
          lineStyle: { color: LINE, width: 1 },
        });
      });
      if (r === 7) {
        series.push({
          type: 'line', xAxisIndex: gi * 2, yAxisIndex: gi * 2 + 1, data: ci === 0 ? saoLeft : saoRight,
          showSymbol: false, symbol: 'none', silent: true, clip: true,
          lineStyle: { color: LINE, width: 1 },
        });
      }
      const tp = c.tpos[r];
      const tt = TITLES[r];
      elements.push(textEl(tp[0], tp[1], tt.startsWith('{') ? tt : `{t|${tt}}`, titleRich));
      const cy = b.t + b.h / 2;
      elements.push(textEl(c.lx[r][0], cy, YLAB1[r], labRich, true));
      elements.push(textEl(c.lx[r][1], cy, YLAB2[r], labRich, true));
      gi++;
    });
  });
  elements.push(textEl(339, 18, `{t|${TOP_LEFT}}`, titleRich));
  elements.push(textEl(916, 21, `{t|${TOP_RIGHT}}`, titleRich));
  elements.push(textEl(590, 1195, SAO_LABEL, labRich, true));
  elements.push(textEl(1200, 1192, SAO_LABEL, labRich, true));
  elements.push(textEl(624, 1315, `{t|${X_NAME}}`, titleRich));

  return {
    animation: false,
    backgroundColor: '#ffffff',
    grid, xAxis, yAxis, series,
    graphic: { elements },
  };
}

export default function App() {
  const ref = useRef<HTMLDivElement>(null);
  useEffect(() => {
    if (!ref.current) return;
    const chart = echarts.init(ref.current, undefined, { renderer: 'svg' });
    chart.setOption(buildOption() as any);
    return () => chart.dispose();
  }, []);
  return (
    <div
      ref={ref}
      style={{ position: 'absolute', left: 0, top: 0, width: 1225, height: 1327, background: '#fff' }}
    />
  );
}
